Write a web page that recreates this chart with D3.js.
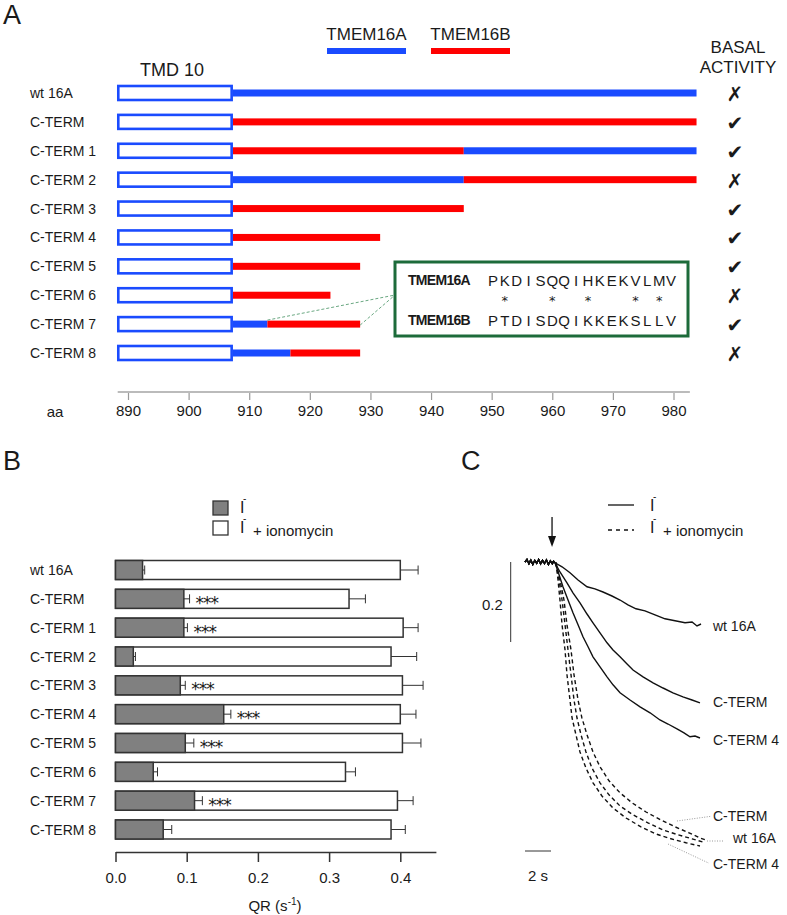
<!DOCTYPE html>
<html><head><meta charset="utf-8">
<script src="https://cdn.jsdelivr.net/npm/d3@7"></script>
<style>
body{margin:0;background:#fff}
text{font-family:"Liberation Sans",Arial,sans-serif;fill:#1a1a1a}
</style>
</head><body>
<svg id="c" width="787" height="915" xmlns="http://www.w3.org/2000/svg"></svg>
<script>
// ---------------- DATA ----------------
const constructs = ["wt 16A","C-TERM","C-TERM 1","C-TERM 2","C-TERM 3","C-TERM 4","C-TERM 5","C-TERM 6","C-TERM 7","C-TERM 8"];
// Panel A (amino-acid positions)
const tmdStart = 888.2, tmdEnd = 907.3;
const segEnd    = [983.8, 983.8, 983.8, 983.8, 945.4, 931.6, 928.3, 923.4, 928.3, 928.3];
const splitAt   = [null, null, 945.4, 945.4, null, null, null, null, 913.0, 916.8];
const firstPart = ["A","B","B","A","B","B","B","B","A","A"];
const secondPart= [null,null,"A","B",null,null,null,null,"B","B"];
const basalActivity = [false,true,true,false,true,true,true,false,true,false];
const aaTicks = [890,900,910,920,930,940,950,960,970,980];
const seq16A = "PKDISQQIHKEKVLMV";
const seq16B = "PTDISDQIKKEKSLLV";
// Panel B (QR, s^-1)
const qrIono     = [0.400,0.328,0.404,0.387,0.403,0.400,0.403,0.323,0.396,0.387];
const qrIonoErr  = [0.025,0.023,0.021,0.036,0.029,0.022,0.026,0.014,0.022,0.020];
const qrBasal    = [0.038,0.096,0.096,0.025,0.091,0.152,0.098,0.053,0.111,0.067];
const qrBasalErr = [0.003,0.008,0.005,0.003,0.007,0.010,0.012,0.006,0.011,0.012];
const significant= [false,true,true,false,true,true,true,false,true,false];
const qrTicks = [0,0.1,0.2,0.3,0.4];
// Panel C traces [time s, relative fluorescence]
const baseline = [[0,1.0],[0.15,1.006],[0.3,0.996],[0.45,1.005],[0.6,0.994],[0.75,1.004],[0.9,0.997],[1.05,1.006],[1.2,0.995],[1.35,1.004],[1.5,0.996],[1.65,1.005],[1.8,0.994],[1.95,1.003],[2.1,0.996],[2.2,1.002]];
const wtSolid = [[2.31,0.998],[2.85,0.988],[3.46,0.973],[4.08,0.955],[4.77,0.938],[5.38,0.933],[6.0,0.925],[6.69,0.915],[7.31,0.905],[7.92,0.893],[8.54,0.883],[9.23,0.878],[10.0,0.868],[10.77,0.858],[11.54,0.853],[12.31,0.848],[12.85,0.850],[13.23,0.840],[13.54,0.845]];
const ctSolid = [[2.31,0.998],[2.69,0.975],[3.23,0.948],[3.69,0.923],[4.23,0.898],[4.77,0.870],[5.23,0.848],[5.77,0.823],[6.31,0.798],[6.77,0.780],[7.31,0.763],[7.85,0.745],[8.31,0.730],[9.08,0.713],[9.85,0.698],[10.62,0.685],[11.38,0.673],[12.15,0.663],[12.85,0.655],[13.46,0.648]];
const ct4Solid = [[2.31,0.998],[2.62,0.968],[2.92,0.938],[3.31,0.905],[3.69,0.873],[4.08,0.843],[4.46,0.813],[4.85,0.788],[5.23,0.763],[5.77,0.738],[6.31,0.713],[6.77,0.693],[7.31,0.673],[8.08,0.655],[8.85,0.638],[9.62,0.623],[10.38,0.605],[11.0,0.595],[11.69,0.583],[12.23,0.573],[12.69,0.563],[13.08,0.565],[13.46,0.560]];
const wtDashed = [[2.38,0.998],[2.62,0.955],[2.85,0.905],[3.08,0.843],[3.31,0.780],[3.54,0.718],[3.77,0.655],[4.00,0.610],[4.31,0.568],[4.69,0.525],[5.15,0.485],[5.77,0.448],[6.46,0.418],[7.31,0.390],[8.31,0.368],[9.46,0.348],[10.62,0.330],[11.77,0.318],[12.85,0.308],[13.69,0.300]];
const ct4Dashed = [[2.38,0.998],[2.54,0.955],[2.69,0.905],[2.85,0.843],[3.08,0.780],[3.23,0.718],[3.46,0.655],[3.62,0.610],[3.92,0.568],[4.23,0.525],[4.69,0.485],[5.23,0.448],[5.92,0.415],[6.77,0.385],[7.77,0.360],[8.92,0.338],[10.08,0.320],[11.23,0.308],[12.38,0.298],[13.46,0.290]];
const ctDashed = [[2.38,0.998],[2.69,0.955],[3.00,0.905],[3.23,0.843],[3.54,0.780],[3.77,0.718],[4.08,0.655],[4.38,0.610],[4.77,0.568],[5.23,0.525],[5.77,0.488],[6.46,0.453],[7.31,0.423],[8.23,0.398],[9.31,0.375],[10.46,0.355],[11.54,0.338],[12.62,0.323],[13.46,0.310],[13.92,0.305]];
const solidLabels = [["wt 16A",14.46,0.840],["C-TERM",14.46,0.650],["C-TERM 4",14.46,0.555]];
const dashedLabels = [["C-TERM",14.46,0.365,11.69,0.3525,14.25,0.364],["wt 16A",16.0,0.310,14.0,0.3025,15.25,0.3025],["C-TERM 4",14.46,0.245,11.0,0.295,14.15,0.247]];

// ---------------- DRAW ----------------
const svg = d3.select("#c");
svg.append("rect").attr("width",787).attr("height",915).attr("fill","#fff");
const col = {A:"#1a4bff", B:"#ff0000"};

// Panel labels
[["A",3,24],["B",3,470],["C",461,470]].forEach(([t,x,y])=>
  svg.append("text").attr("x",x).attr("y",y).attr("font-size",27).text(t));

// ===== Panel A =====
const xA = d3.scaleLinear().domain([890,980]).range([128,673.5]);
const yA = d3.scalePoint().domain(constructs).range([93,353]);
const gA = svg.append("g");

// legend
[["TMEM16A","A",327,406],["TMEM16B","B",431,510]].forEach(([t,k,x0,x1])=>{
  gA.append("text").attr("x",(x0+x1)/2).attr("y",40).attr("text-anchor","middle").attr("font-size",17).text(t);
  gA.append("rect").attr("x",x0).attr("y",48).attr("width",x1-x0).attr("height",6).attr("fill",col[k]);
});
gA.append("text").attr("x",738).attr("y",53).attr("text-anchor","middle").attr("font-size",17).text("BASAL");
gA.append("text").attr("x",738).attr("y",73).attr("text-anchor","middle").attr("font-size",17).text("ACTIVITY");
gA.append("text").attr("x",140).attr("y",76).attr("font-size",18).text("TMD 10");

constructs.forEach((c,i)=>{
  const yc = yA(c);
  gA.append("text").attr("x",30).attr("y",yc).attr("dominant-baseline","central").attr("font-size",14).text(c);
  const split = splitAt[i] ?? segEnd[i];
  gA.append("rect").attr("x",xA(tmdEnd)).attr("y",yc-3.5).attr("width",xA(split)-xA(tmdEnd)).attr("height",7).attr("fill",col[firstPart[i]]);
  if (secondPart[i]) gA.append("rect").attr("x",xA(split)).attr("y",yc-3.5).attr("width",xA(segEnd[i])-xA(split)).attr("height",7).attr("fill",col[secondPart[i]]);
  gA.append("rect").attr("x",xA(tmdStart)+1.2).attr("y",yc-7).attr("width",xA(tmdEnd)-xA(tmdStart)-2.4).attr("height",14)
    .attr("fill","#fff").attr("stroke",col.A).attr("stroke-width",2.6);
  gA.append("text").attr("x",735).attr("y",yc+1).attr("text-anchor","middle").attr("dominant-baseline","central")
    .style("font-family","'DejaVu Sans'").attr("font-size",20).text(basalActivity[i] ? "\u2714" : "\u2717");
});

// inset connectors
const i7 = 8, boxX = 395, boxY = 262, boxW = 293, boxH = 74;
[[xA(splitAt[i7]), yA(constructs[i7])-4],[xA(segEnd[i7]), yA(constructs[i7])+1]].forEach(([x,y])=>
  gA.append("line").attr("x1",x).attr("y1",y).attr("x2",boxX).attr("y2",boxY+33)
    .attr("stroke","#6aa882").attr("stroke-width",1).attr("stroke-dasharray","3,2"));
gA.append("rect").attr("x",boxX).attr("y",boxY).attr("width",boxW).attr("height",boxH)
  .attr("fill","#fff").attr("stroke","#1c6b3a").attr("stroke-width",3);
const xSeq = d3.scalePoint().domain(d3.range(seq16A.length)).range([493,671]);
[["TMEM16A",seq16A,280],["TMEM16B",seq16B,320]].forEach(([n,s,y])=>{
  gA.append("text").attr("x",408).attr("y",y).attr("dominant-baseline","central").attr("font-size",14).attr("font-weight","bold")
    .attr("letter-spacing",-0.7).text(n);
  s.split("").forEach((ch,k)=>gA.append("text").attr("x",xSeq(k)).attr("y",y).attr("text-anchor","middle")
    .attr("dominant-baseline","central").attr("font-size",15).attr("fill","#222").text(ch));
});
seq16A.split("").forEach((ch,k)=>{ if (ch!==seq16B[k])
  gA.append("text").attr("x",xSeq(k)).attr("y",305).attr("text-anchor","middle").style("font-family","'DejaVu Sans'").attr("font-size",13).text("*"); });

// aa axis
const axA = gA.append("g").attr("transform","translate(0,392)")
  .call(d3.axisBottom(xA).tickValues(aaTicks).tickSize(8).tickSizeOuter(0).tickPadding(5));
axA.select(".domain").remove();
axA.selectAll(".tick line").attr("stroke","#999").attr("stroke-width",1.2);
axA.selectAll(".tick text").attr("font-size",15).style("font-family","'Liberation Sans',Arial,sans-serif").attr("fill","#222");
axA.append("line").attr("x1",xA(888.3)).attr("x2",xA(982.7)).attr("stroke","#bbb").attr("stroke-width",2);
gA.append("text").attr("x",55).attr("y",411).attr("text-anchor","middle").attr("dominant-baseline","central").attr("font-size",15).text("aa");

// ===== Panel B =====
const xB = d3.scaleLinear().domain([0,0.45]).range([115.5,435.9]);
const yB = d3.scalePoint().domain(constructs).range([570,829.5]);
const barH = 19;
const gB = svg.append("g");
// legend
gB.append("rect").attr("x",213).attr("y",501).attr("width",15).attr("height",14).attr("fill","#808080").attr("stroke","#333").attr("stroke-width",1.3);
gB.append("rect").attr("x",213).attr("y",521).attr("width",15).attr("height",14).attr("fill","#fff").attr("stroke","#333").attr("stroke-width",1.3);
function ionLabel(g,x,y,plus){
  g.append("text").attr("x",x).attr("y",y).attr("dominant-baseline","central").attr("font-size",16).text("I");
  g.append("text").attr("x",x+3).attr("y",y-9).attr("dominant-baseline","central").attr("font-size",10).text("-");
  if (plus) g.append("text").attr("x",x+13).attr("y",y+3).attr("dominant-baseline","central").attr("font-size",15).text("+ ionomycin");
}
ionLabel(gB,240,507,false);
ionLabel(gB,240,527,true);

constructs.forEach((c,i)=>{
  const yc = yB(c);
  gB.append("text").attr("x",30).attr("y",yc).attr("dominant-baseline","central").attr("font-size",14).text(c);
  gB.append("rect").attr("x",xB(0)).attr("y",yc-barH/2).attr("width",xB(qrIono[i])-xB(0)).attr("height",barH)
    .attr("fill","#fff").attr("stroke","#333").attr("stroke-width",1.5);
  gB.append("rect").attr("x",xB(0)).attr("y",yc-barH/2).attr("width",xB(qrBasal[i])-xB(0)).attr("height",barH)
    .attr("fill","#808080").attr("stroke","#333").attr("stroke-width",1.5);
  [[qrIono[i],qrIonoErr[i]],[qrBasal[i],qrBasalErr[i]]].forEach(([v,e])=>{
    gB.append("line").attr("x1",xB(v)).attr("x2",xB(v+e)).attr("y1",yc).attr("y2",yc).attr("stroke","#333").attr("stroke-width",1);
    gB.append("line").attr("x1",xB(v+e)).attr("x2",xB(v+e)).attr("y1",yc-4.5).attr("y2",yc+4.5).attr("stroke","#333").attr("stroke-width",1);
  });
  if (significant[i]) gB.append("text").attr("x",xB(qrBasal[i]+qrBasalErr[i])+6).attr("y",yc+10)
    .style("font-family","'DejaVu Sans'").attr("font-size",17).attr("letter-spacing",-1).text("***");
});
const axB = gB.append("g").attr("transform","translate(0,852)")
  .call(d3.axisBottom(xB).tickValues(qrTicks).tickFormat(d3.format(".1f")).tickSize(10).tickSizeOuter(0).tickPadding(10));
axB.select(".domain").attr("stroke","#333").attr("stroke-width",1.5);
axB.selectAll(".tick line").attr("stroke","#333").attr("stroke-width",1.5);
axB.selectAll(".tick text").attr("font-size",15).style("font-family","'Liberation Sans',Arial,sans-serif").attr("fill","#222");
const qrT = gB.append("text").attr("x",275).attr("y",911).attr("text-anchor","middle").attr("font-size",15);
qrT.append("tspan").text("QR (s");
qrT.append("tspan").attr("dy",-6).attr("font-size",10).text("-1");
qrT.append("tspan").attr("dy",6).text(")");

// ===== Panel C =====
const xC = d3.scaleLinear().domain([0,14]).range([525,707]);
const yC = d3.scaleLinear().domain([1.0,0.2]).range([562,882]);
const gC = svg.append("g");
const line = d3.line().x(d=>xC(d[0])).y(d=>yC(d[1]));
// legend
gC.append("line").attr("x1",608).attr("x2",634).attr("y1",505).attr("y2",505).attr("stroke","#111").attr("stroke-width",1.3);
gC.append("line").attr("x1",608).attr("x2",634).attr("y1",530).attr("y2",530).attr("stroke","#111").attr("stroke-width",1.3).attr("stroke-dasharray","4,4");
ionLabel(gC,650,505,false);
ionLabel(gC,650,527,true);
// stimulus arrow
const stimT = 2.08;
gC.append("line").attr("x1",xC(stimT)).attr("x2",xC(stimT)).attr("y1",517).attr("y2",538).attr("stroke","#111").attr("stroke-width",1.3);
gC.append("path").attr("d",`M${xC(stimT)-4},536 L${xC(stimT)+4},536 L${xC(stimT)},547 Z`).attr("fill","#111");
// traces
[wtDashed, ctDashed, ct4Dashed].forEach(tr=>
  gC.append("path").attr("d",line(baseline.concat(tr))).attr("fill","none").attr("stroke","#111")
    .attr("stroke-width",1.4).attr("stroke-dasharray","4,3"));
[wtSolid, ctSolid, ct4Solid].forEach(tr=>
  gC.append("path").attr("d",line(baseline.concat(tr))).attr("fill","none").attr("stroke","#111").attr("stroke-width",1.4));
solidLabels.forEach(([t,x,y])=>gC.append("text").attr("x",xC(x)).attr("y",yC(y)).attr("dominant-baseline","central").attr("font-size",14).text(t));
dashedLabels.forEach(([t,x,y,lx1,ly1,lx2,ly2])=>{
  gC.append("line").attr("x1",xC(lx1)).attr("y1",yC(ly1)).attr("x2",xC(lx2)).attr("y2",yC(ly2))
    .attr("stroke","#999").attr("stroke-width",1).attr("stroke-dasharray","1,1.5");
  gC.append("text").attr("x",xC(x)).attr("y",yC(y)).attr("dominant-baseline","central").attr("font-size",14).text(t);
});
// scale bars
gC.append("line").attr("x1",xC(-1.1)).attr("x2",xC(-1.1)).attr("y1",yC(1.0)).attr("y2",yC(0.8)).attr("stroke","#333").attr("stroke-width",1);
gC.append("text").attr("x",xC(-1.7)).attr("y",yC(0.893)).attr("text-anchor","end").attr("dominant-baseline","central").attr("font-size",15).text("0.2");
gC.append("line").attr("x1",xC(0)).attr("x2",xC(2)).attr("y1",yC(0.2775)).attr("y2",yC(0.2775)).attr("stroke","#333").attr("stroke-width",1);
gC.append("text").attr("x",xC(1.0)).attr("y",yC(0.2175)).attr("text-anchor","middle").attr("dominant-baseline","central").attr("font-size",15).text("2 s");
</script>
</body></html>
